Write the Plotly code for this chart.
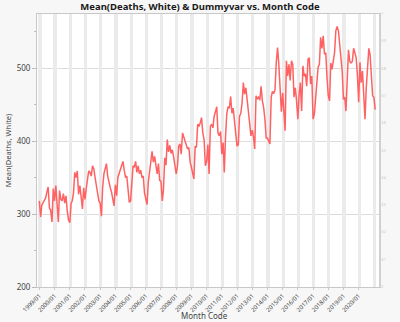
import plotly.graph_objects as go
import pandas as pd

# Month Code categories: monthly, 1999/01 .. 2021/02
month_code = pd.date_range("1999-01-01", "2021-02-01", freq="MS")

# Mean(Deaths, White), one row per year (Jan..Dec)
mean_deaths_white = [
    318, 296, 312, 316, 319, 322, 330, 337, 308, 305, 289, 335,   # 1999
    318, 339, 315, 289, 332, 320, 318, 328, 315, 325, 305, 292,   # 2000
    288, 314, 318, 329, 357, 350, 359, 327, 339, 325, 307, 336,   # 2001
    320, 335, 350, 359, 357, 352, 366, 362, 350, 341, 332, 318,   # 2002
    315, 297, 336, 355, 362, 369, 352, 341, 336, 330, 322, 311,   # 2003
    340, 325, 350, 355, 360, 367, 372, 360, 350, 352, 335, 316,   # 2004
    318, 345, 366, 364, 372, 357, 366, 355, 360, 350, 352, 329,   # 2005
    322, 313, 343, 357, 367, 386, 371, 379, 367, 355, 369, 346,   # 2006
    345, 318, 333, 377, 367, 402, 385, 394, 383, 388, 378, 367,   # 2007
    355, 366, 393, 396, 382, 411, 405, 402, 396, 389, 391, 371,   # 2008
    364, 357, 348, 393, 391, 423, 420, 425, 432, 411, 402, 366,   # 2009
    372, 395, 355, 420, 423, 418, 434, 440, 447, 411, 407, 413,   # 2010
    382, 398, 357, 407, 438, 447, 445, 461, 438, 445, 424, 407,   # 2011
    393, 395, 434, 438, 452, 480, 464, 473, 457, 443, 424, 407,   # 2012
    415, 405, 389, 462, 458, 460, 456, 475, 455, 446, 430, 404,   # 2013
    404, 400, 396, 460, 468, 465, 470, 508, 528, 505, 460, 440,   # 2014
    466, 440, 414, 510, 489, 505, 483, 510, 505, 460, 473, 455,   # 2015
    430, 464, 480, 441, 503, 489, 492, 475, 512, 514, 478, 489,   # 2016
    430, 437, 460, 473, 501, 505, 542, 527, 544, 519, 521, 487,   # 2017
    462, 455, 507, 498, 509, 521, 551, 557, 551, 532, 521, 496,   # 2018
    457, 460, 441, 491, 525, 509, 507, 509, 527, 521, 514, 491,   # 2019
    453, 508, 480, 496, 455, 430, 473, 501, 527, 518, 491, 462,   # 2020
    460, 443,                                                     # 2021
]

# Dummyvar: 1 in January of each year
dummy_dates = pd.date_range("1999-01-01", "2021-01-01", freq="12MS") + pd.Timedelta(days=14)
dummy_var = [1] * len(dummy_dates)

tick_dates = pd.date_range("1999-01-01", "2020-01-01", freq="12MS")
tick_labels = [d.strftime("%Y/%m") for d in tick_dates]

FONT = "Noto Sans"
fig = go.Figure()

fig.add_trace(go.Bar(
    x=dummy_dates, y=dummy_var, yaxis="y",
    width=78 * 86400000, marker=dict(color="#ebebeb", line=dict(width=0)),
    hoverinfo="skip", showlegend=False,
))
fig.add_trace(go.Scatter(
    x=month_code, y=mean_deaths_white, yaxis="y2", mode="lines",
    line=dict(color="#ff6262", width=1.5), showlegend=False,
))

fig.update_layout(
    width=400, height=322,
    margin=dict(l=37, r=21, t=14, b=35, autoexpand=False),
    paper_bgcolor="#f7f7f7", plot_bgcolor="#ffffff",
    font=dict(family=FONT, color="#333333"),
    title=dict(text="<b>Mean(Deaths, White) & Dummyvar vs. Month Code</b>",
               x=0.5, xanchor="center", y=1 - 7 / 322, yanchor="middle",
               font=dict(size=9.5, family=FONT, color="#1a1a1a")),
    bargap=0,
    xaxis=dict(
        type="date", range=["1998-11-06", "2021-05-03"], automargin=False,
        tickvals=tick_dates, ticktext=tick_labels, tickangle=-45,
        tickfont=dict(size=6, color="#444444"),
        showgrid=False, zeroline=False,
        showline=True, linecolor="#c8c8c8", linewidth=1, mirror=True,
        ticks="outside", ticklen=2, tickcolor="#c8c8c8",
    ),
    yaxis=dict(
        side="right", range=[0, 1], dtick=0.1, automargin=False,
        showgrid=False, zeroline=False,
        showline=True, linecolor="#d0d0d0", linewidth=2,
        tickfont=dict(size=3, color="#bbbbbb"), ticks="",
    ),
    yaxis2=dict(
        overlaying="y", side="left", range=[200, 574], automargin=False,
        tickvals=[200, 300, 400, 500],
        tickfont=dict(size=8, color="#444444"),
        showgrid=True, gridcolor="#dddddd", gridwidth=1, zeroline=False,
        showline=True, linecolor="#c8c8c8", linewidth=1,
        ticks="outside", ticklen=4, tickcolor="#bbbbbb",
        minor=dict(tickvals=[250, 350, 450, 550], ticks="outside", ticklen=2, tickcolor="#bbbbbb"),
        title=dict(text="Mean(Deaths, White)", font=dict(size=7.5, color="#444444"), standoff=4),
    ),
    annotations=[dict(
        text="Month Code", xref="paper", yref="paper", x=0.49, y=-(315 - 287) / 273,
        xanchor="center", yanchor="middle", showarrow=False,
        font=dict(size=8, color="#444444", family=FONT),
    )],
)

fig.write_html("out.html")
